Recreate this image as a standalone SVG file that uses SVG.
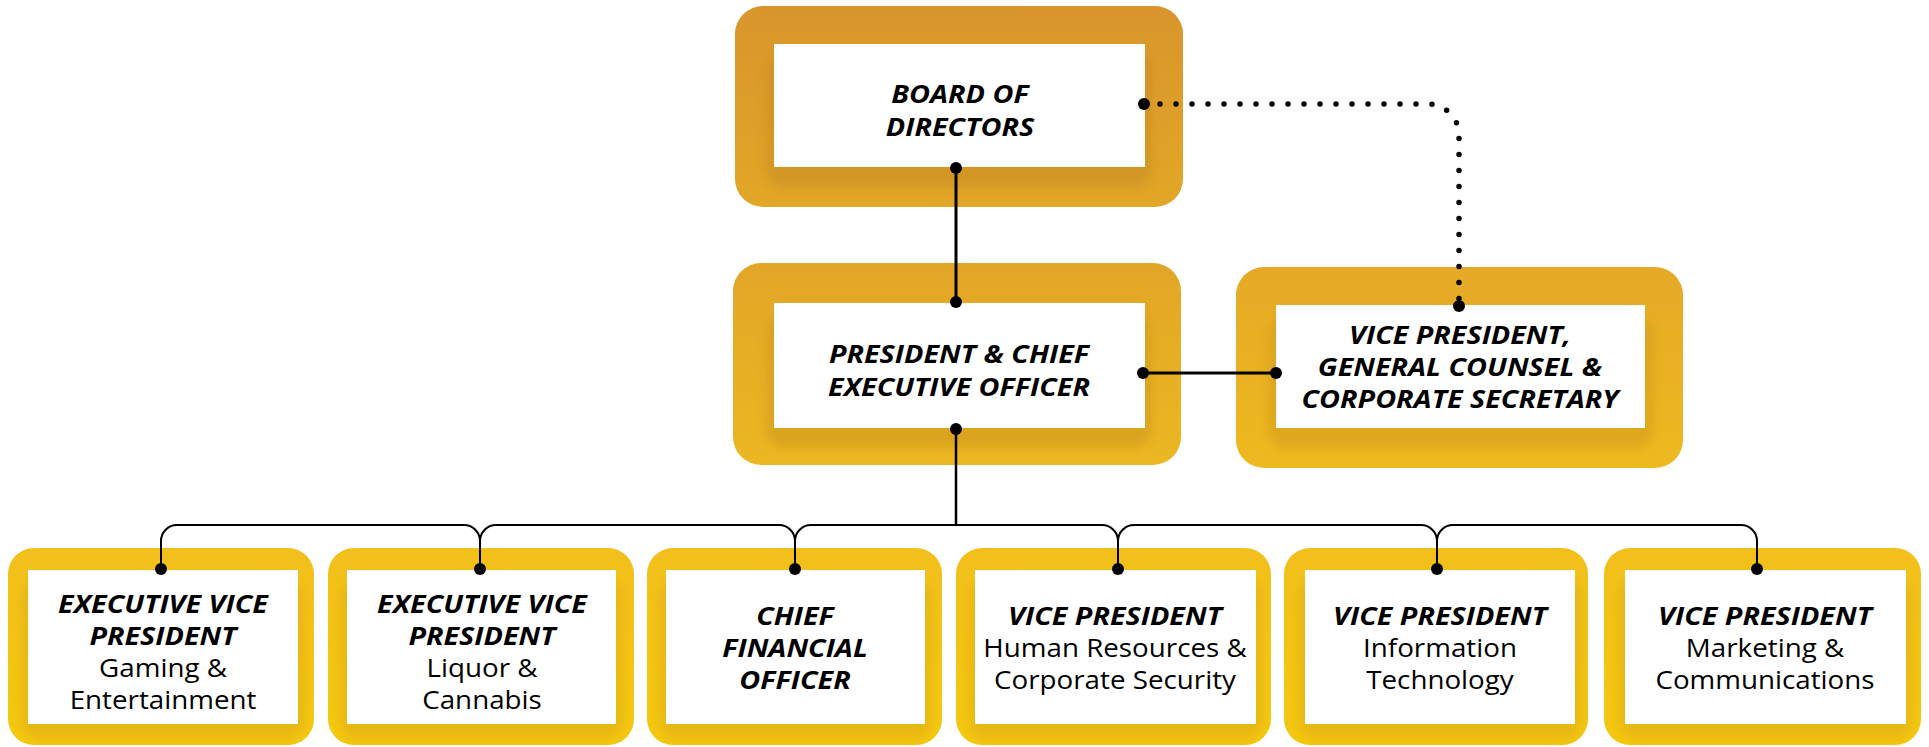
<svg xmlns="http://www.w3.org/2000/svg" width="1929" height="747" viewBox="0 0 1929 747">
  <style>
    .inner { fill: #ffffff; }
    .shade { filter: url(#soft); }
    .t { font-family: "Open Sans", "Noto Sans", sans-serif; font-size: 25px; fill: #000000; text-anchor: middle; }
    .b { font-weight: 700; font-style: italic; }
    .line { fill: none; stroke: #000000; stroke-linecap: round; stroke-linejoin: round; }
    .dot { fill: #000000; }
  </style>
  <defs>
    <linearGradient id="gBoard" x1="0" y1="0" x2="0" y2="1">
      <stop offset="0" stop-color="#D9952C"/>
      <stop offset="1" stop-color="#E2A727"/>
    </linearGradient>
    <linearGradient id="gCeo" x1="0" y1="0" x2="0" y2="1">
      <stop offset="0" stop-color="#E2A627"/>
      <stop offset="1" stop-color="#EBB722"/>
    </linearGradient>
    <linearGradient id="gCounsel" x1="0" y1="0" x2="0" y2="1">
      <stop offset="0" stop-color="#E5A927"/>
      <stop offset="1" stop-color="#EEB91F"/>
    </linearGradient>
    <linearGradient id="gExec" x1="0" y1="0" x2="0" y2="1">
      <stop offset="0" stop-color="#F2BF1C"/>
      <stop offset="1" stop-color="#F3C80F"/>
    </linearGradient>
    <filter id="soft" x="-10%" y="-10%" width="120%" height="130%">
      <feGaussianBlur stdDeviation="5"/>
    </filter>
  </defs>

  <!-- top row -->
  <g id="board">
    <rect x="735" y="6" width="448" height="201" rx="28" fill="url(#gBoard)"/>
    <rect class="shade" x="766" y="54" width="386" height="134" rx="18" fill="#C98F22" opacity="0.6"/>
    <rect class="inner" x="774" y="44" width="371" height="123"/>
    <text class="t b" transform="translate(960,103) scale(1.15,1)">BOARD OF</text>
    <text class="t b" transform="translate(960,136) scale(1.15,1)">DIRECTORS</text>
  </g>

  <!-- middle row -->
  <g id="ceo">
    <rect x="733" y="263" width="448" height="202" rx="28" fill="url(#gCeo)"/>
    <rect class="shade" x="766" y="314" width="386" height="134" rx="18" fill="#D29A1F" opacity="0.6"/>
    <rect class="inner" x="774" y="303" width="371" height="125"/>
    <text class="t b" transform="translate(959,363) scale(1.15,1)">PRESIDENT &amp; CHIEF</text>
    <text class="t b" transform="translate(959,396) scale(1.15,1)">EXECUTIVE OFFICER</text>
  </g>

  <g id="counsel">
    <rect x="1236" y="267" width="447" height="201" rx="28" fill="url(#gCounsel)"/>
    <rect class="shade" x="1268" y="316" width="386" height="132" rx="18" fill="#D59E1C" opacity="0.6"/>
    <rect class="inner" x="1276" y="305" width="369" height="123"/>
    <text class="t b" transform="translate(1460,344) scale(1.15,1)">VICE PRESIDENT,</text>
    <text class="t b" transform="translate(1460,376) scale(1.15,1)">GENERAL COUNSEL &amp;</text>
    <text class="t b" transform="translate(1460,408) scale(1.15,1)">CORPORATE SECRETARY</text>
  </g>

  <!-- bottom row -->
  <g id="evp-gaming">
    <rect x="8" y="548" width="306" height="197" rx="26" fill="url(#gExec)"/>
    <rect class="shade" x="22" y="580" width="282" height="160" rx="18" fill="#E0AC14" opacity="0.55"/>
    <rect class="inner" x="28" y="570" width="270" height="154"/>
    <text class="t b" transform="translate(163,613) scale(1.15,1)">EXECUTIVE VICE</text>
    <text class="t b" transform="translate(163,645) scale(1.15,1)">PRESIDENT</text>
    <text class="t" transform="translate(163,677) scale(1.11,1)">Gaming &amp;</text>
    <text class="t" transform="translate(163,709) scale(1.11,1)">Entertainment</text>
  </g>

  <g id="evp-liquor">
    <rect x="328" y="548" width="306" height="197" rx="26" fill="url(#gExec)"/>
    <rect class="shade" x="341" y="580" width="281" height="160" rx="18" fill="#E0AC14" opacity="0.55"/>
    <rect class="inner" x="347" y="570" width="269" height="154"/>
    <text class="t b" transform="translate(482,613) scale(1.15,1)">EXECUTIVE VICE</text>
    <text class="t b" transform="translate(482,645) scale(1.15,1)">PRESIDENT</text>
    <text class="t" transform="translate(482,677) scale(1.11,1)">Liquor &amp;</text>
    <text class="t" transform="translate(482,709) scale(1.11,1)">Cannabis</text>
  </g>

  <g id="cfo">
    <rect x="647" y="548" width="295" height="197" rx="26" fill="url(#gExec)"/>
    <rect class="shade" x="660" y="580" width="271" height="160" rx="18" fill="#E0AC14" opacity="0.55"/>
    <rect class="inner" x="666" y="570" width="259" height="154"/>
    <text class="t b" transform="translate(795,625) scale(1.15,1)">CHIEF</text>
    <text class="t b" transform="translate(795,657) scale(1.15,1)">FINANCIAL</text>
    <text class="t b" transform="translate(795,689) scale(1.15,1)">OFFICER</text>
  </g>

  <g id="vp-hr">
    <rect x="956" y="548" width="315" height="197" rx="26" fill="url(#gExec)"/>
    <rect class="shade" x="969" y="580" width="293" height="160" rx="18" fill="#E0AC14" opacity="0.55"/>
    <rect class="inner" x="975" y="570" width="281" height="154"/>
    <text class="t b" transform="translate(1115,625) scale(1.15,1)">VICE PRESIDENT</text>
    <text class="t" transform="translate(1115,657) scale(1.11,1)">Human Resources &amp;</text>
    <text class="t" transform="translate(1115,689) scale(1.11,1)">Corporate Security</text>
  </g>

  <g id="vp-it">
    <rect x="1284" y="548" width="304" height="197" rx="26" fill="url(#gExec)"/>
    <rect class="shade" x="1299" y="580" width="282" height="160" rx="18" fill="#E0AC14" opacity="0.55"/>
    <rect class="inner" x="1305" y="570" width="270" height="154"/>
    <text class="t b" transform="translate(1440,625) scale(1.15,1)">VICE PRESIDENT</text>
    <text class="t" transform="translate(1440,657) scale(1.11,1)">Information</text>
    <text class="t" transform="translate(1440,689) scale(1.11,1)">Technology</text>
  </g>

  <g id="vp-marketing">
    <rect x="1604" y="548" width="317" height="197" rx="26" fill="url(#gExec)"/>
    <rect class="shade" x="1619" y="580" width="293" height="160" rx="18" fill="#E0AC14" opacity="0.55"/>
    <rect class="inner" x="1625" y="570" width="281" height="154"/>
    <text class="t b" transform="translate(1765,625) scale(1.15,1)">VICE PRESIDENT</text>
    <text class="t" transform="translate(1765,657) scale(1.11,1)">Marketing &amp;</text>
    <text class="t" transform="translate(1765,689) scale(1.11,1)">Communications</text>
  </g>

  <!-- reporting lines -->
  <g id="connectors">
    <path class="line" stroke-width="3" d="M956,168 V302"/>
    <path class="line" stroke-width="3" d="M1143,373 H1276"/>
    <path class="line" stroke-width="2.5" d="M956,429 V525"/>
    <path class="line" stroke-width="2" d="M161,569 V541 A16,16 0 0 1 177,525 H464 A16,16 0 0 1 480,541 V569 M480,541 A16,16 0 0 1 496,525 H779 A16,16 0 0 1 795,541 V569 M795,541 A16,16 0 0 1 811,525 H1102 A16,16 0 0 1 1118,541 V569 M1118,541 A16,16 0 0 1 1134,525 H1421 A16,16 0 0 1 1437,541 V569 M1437,541 A16,16 0 0 1 1453,525 H1741 A16,16 0 0 1 1757,541 V569"/>
    <path class="line" stroke-width="5.5" stroke-dasharray="0 16" d="M1160,104 H1428 A31,31 0 0 1 1459,135 V306"/>
    <circle class="dot" cx="956" cy="168" r="6"/>
    <circle class="dot" cx="956" cy="302" r="6"/>
    <circle class="dot" cx="956" cy="429" r="6"/>
    <circle class="dot" cx="1143" cy="373" r="6"/>
    <circle class="dot" cx="1276" cy="373" r="6"/>
    <circle class="dot" cx="1144" cy="104" r="6"/>
    <circle class="dot" cx="1459" cy="306" r="6"/>
    <circle class="dot" cx="161" cy="569" r="6"/>
    <circle class="dot" cx="480" cy="569" r="6"/>
    <circle class="dot" cx="795" cy="569" r="6"/>
    <circle class="dot" cx="1118" cy="569" r="6"/>
    <circle class="dot" cx="1437" cy="569" r="6"/>
    <circle class="dot" cx="1757" cy="569" r="6"/>
  </g>
</svg>
